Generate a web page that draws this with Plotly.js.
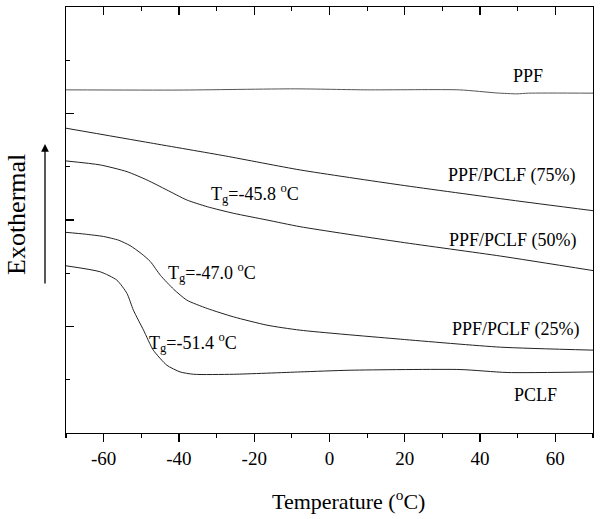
<!DOCTYPE html>
<html>
<head>
<meta charset="utf-8">
<script src="https://cdn.plot.ly/plotly-3.0.1.min.js"></script>
<style>html,body{margin:0;padding:0;background:#fff;}#chart{width:600px;height:519px;}</style>
</head>
<body>
<div id="chart"></div>
<script>
// Temperature (°C) and heat-flow (arbitrary units, stacked) for each sample
const tempPPF = [-70, -40, -9.2, 10, 34.5, 44.6, 49.8, 52.9, 70];
const ppf     = [6.444, 6.44, 6.463, 6.444, 6.444, 6.385, 6.369, 6.382, 6.382];

const temp75  = [-70, -47.6, -27.7, -7.8, 18.8, 48.0, 70];
const ppf75   = [5.724, 5.448, 5.203, 4.940, 4.658, 4.376, 4.175];

const temp50  = [-70, -60.9, -53.8, -48.5, -43.2, -37.9, -32.5, -25.5, -16.6, -7.8, 18.8, 45.4, 70];
const ppf50   = [5.109, 5.034, 4.908, 4.752, 4.564, 4.376, 4.250, 4.126, 4.000, 3.874, 3.586, 3.323, 3.050];

const temp25  = [-70, -65, -60, -56, -53, -50, -47.6, -44.9, -41.4, -37.9, -32.5, -25.5, -16.6, -7.8, 18.8, 45.4, 70];
const ppf25   = [3.768, 3.735, 3.690, 3.620, 3.520, 3.370, 3.220, 2.960, 2.700, 2.495, 2.339, 2.181, 2.025, 1.931, 1.762, 1.612, 1.556];

const tempPCLF = [-70, -60.9, -56.5, -53.8, -52.1, -49.4, -46.8, -43.2, -39.7, -36.1, -25.5, -7.8, 5.5, 34.7, 47.2, 70];
const pclf     = [3.140, 3.027, 2.871, 2.621, 2.307, 1.931, 1.555, 1.273, 1.147, 1.103, 1.103, 1.147, 1.179, 1.192, 1.136, 1.147];

const seriesNames = ["PPF", "PPF/PCLF (75%)", "PPF/PCLF (50%)", "PPF/PCLF (25%)", "PCLF"];
const tgLabels = ["-45.8", "-47.0", "-51.4"];
const xTickVals = [-60, -40, -20, 0, 20, 40, 60];
const xTickText = ["-60", "-40", "-20", "0", "20", "40", "60"];

const FONT = "Liberation Serif, Times New Roman, serif";
const mk = (x, y, name, color) => ({
  x: x, y: y, name: name, type: "scatter", mode: "lines",
  line: {color: color || "#222", width: 1, shape: "spline", smoothing: 0.6},
  showlegend: false, hoverinfo: "skip"
});

const traces = [
  mk(tempPPF, ppf, seriesNames[0], "#555"),
  mk(temp75, ppf75, seriesNames[1]),
  mk(temp50, ppf50, seriesNames[2]),
  mk(temp25, ppf25, seriesNames[3]),
  mk(tempPCLF, pclf, seriesNames[4]),
  {x: [], y: [], xaxis: "x2", yaxis: "y", type: "scatter", mode: "lines", showlegend: false, hoverinfo: "skip"}
];

// helper: pixel -> paper
const L = 66, R = 593, T = 7, B = 433;
const px = v => (v - L) / (R - L);
const py = v => (B - v) / (B - T);

const lbl = (text, x, y) => ({
  text: text, xref: "paper", yref: "paper", x: px(x), y: py(y),
  xanchor: "center", yanchor: "middle", showarrow: false,
  font: {family: FONT, size: 18, color: "#000"}
});
const tg = (val, x, y) => ({
  text: "T<sub>g</sub>=" + val + " <sup>o</sup>C", xref: "paper", yref: "paper",
  x: px(x), y: py(y), xanchor: "left", yanchor: "middle", showarrow: false,
  font: {family: FONT, size: 18, color: "#000"}
});

const annotations = [
  lbl(seriesNames[0], 528, 76),
  lbl(seriesNames[1], 512, 175),
  lbl(seriesNames[2], 513, 240),
  lbl(seriesNames[3], 516, 329),
  lbl(seriesNames[4], 535, 395),
  tg(tgLabels[0], 209, 193),
  tg(tgLabels[1], 166, 272),
  tg(tgLabels[2], 147, 342),
  {text: "Exothermal", xref: "paper", yref: "paper", x: px(16), y: py(215),
   xanchor: "center", yanchor: "middle", textangle: -90, showarrow: false,
   font: {family: FONT, size: 26, color: "#000"}},
  {text: "Temperature (<sup>o</sup>C)", xref: "paper", yref: "paper", x: px(348), y: py(500),
   xanchor: "center", yanchor: "middle", showarrow: false,
   font: {family: FONT, size: 22, color: "#000"}},
  {text: "", xref: "paper", yref: "paper", x: px(45), y: py(144), ax: 0, ay: 141,
   showarrow: true, arrowhead: 2, arrowsize: 1.2, arrowwidth: 1.3, arrowcolor: "#000"}
];

const layout = {
  width: 600, height: 519,
  margin: {l: L, r: 600 - R, t: T, b: 519 - B},
  paper_bgcolor: "#fff", plot_bgcolor: "#fff",
  font: {family: FONT, size: 19, color: "#000"},
  xaxis: {
    range: [-70, 70], tickvals: xTickVals, ticktext: xTickText, ticks: "outside", ticklen: 8, tickwidth: 1.2,
    tickcolor: "#000", showline: true, linecolor: "#000", linewidth: 1.3, mirror: true,
    showgrid: false, zeroline: false,
    minor: {dtick: 10, tick0: -70, ticks: "outside", ticklen: 4, tickwidth: 1.2, tickcolor: "#000"},
    tickfont: {family: FONT, size: 19, color: "#000"}
  },
  xaxis2: {
    overlaying: "x", side: "top", anchor: "y", range: [-70, 70], tickvals: xTickVals,
    ticks: "inside", ticklen: 8, tickwidth: 1.2, tickcolor: "#000", showticklabels: false,
    showline: false, showgrid: false, zeroline: false,
    minor: {dtick: 10, tick0: -70, ticks: "inside", ticklen: 4, tickwidth: 1.2, tickcolor: "#000"}
  },
  yaxis: {
    range: [0, 8], dtick: 2, tick0: 0, ticks: "inside", ticklen: 8, tickwidth: 1.2,
    tickcolor: "#000", showticklabels: false, showline: true, linecolor: "#000",
    linewidth: 1.3, mirror: true, showgrid: false, zeroline: false,
    minor: {dtick: 1, ticks: "inside", ticklen: 4, tickwidth: 1.2, tickcolor: "#000"}
  },
  annotations: annotations,
  showlegend: false
};

Plotly.newPlot("chart", traces, layout, {displayModeBar: false, staticPlot: true});
</script>
</body>
</html>
